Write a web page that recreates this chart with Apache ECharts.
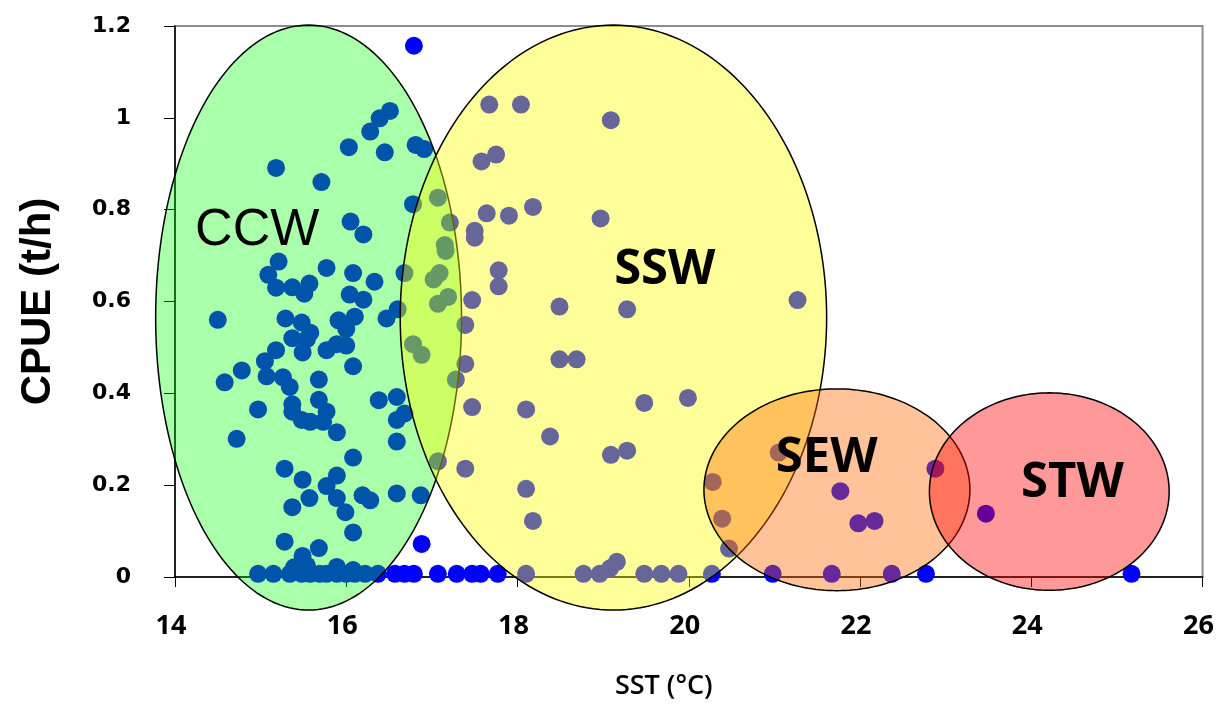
<!DOCTYPE html>
<html>
<head>
<meta charset="utf-8">
<script src="https://cdn.jsdelivr.net/npm/echarts@6/dist/echarts.min.js"></script>
<style>
html,body{margin:0;padding:0;background:#fff;overflow:hidden;}
#main{width:1217px;height:705px;}
</style>
</head>
<body>
<div id="main"></div>
<script>
// SST (°C) of each haul
var sst = [
	16.79,16.51,16.39,16.28,16.03,16.45,16.81,16.91,15.18,15.71,16.78,17.07,16.05,16.20,17.21,17.15,17.16,15.21,15.09,15.77,
	16.08,16.33,16.68,17.09,17.02,15.18,15.37,15.57,15.51,16.04,16.20,17.19,17.07,14.50,15.29,15.48,15.91,16.10,16.00,16.47,
	16.60,15.58,15.37,15.54,15.18,15.49,15.77,15.89,16.00,15.05,14.78,14.58,15.07,15.26,15.34,15.68,16.08,14.97,15.37,15.68,
	15.37,15.48,15.58,15.77,15.73,15.89,16.38,16.59,16.68,16.59,16.59,14.72,16.08,15.28,15.49,15.89,15.77,15.57,15.89,16.19,
	16.28,16.59,16.87,15.37,15.99,16.08,15.28,15.68,16.88,15.49,16.78,16.88,17.07,15.39,15.54,15.89,16.08,
	17.67,18.04,19.09,17.58,17.75,17.64,17.90,18.18,18.97,17.50,17.50,17.78,17.78,17.47,18.49,19.28,21.27,17.39,17.39,17.28,
	18.49,18.69,17.47,18.10,19.48,19.99,18.38,19.09,19.28,17.39,18.10,18.18,20.28,20.39,20.47,21.05,21.77,21.98,22.17,22.88,
	23.47,19.16,19.08,
	14.97,15.15,15.34,15.48,15.58,15.69,15.77,15.89,16.00,16.10,16.22,16.37,16.57,16.68,16.79,17.07,17.29,17.47,17.57,17.77,
	18.10,18.77,18.96,19.48,19.68,19.88,20.27,20.98,21.67,22.37,22.77,25.17
];
// CPUE (t/h) of each haul
var cpue = [
	1.157,1.015,0.999,0.970,0.936,0.925,0.941,0.932,0.891,0.860,0.812,0.826,0.774,0.746,0.772,0.723,0.710,0.687,0.658,0.673,
	0.662,0.643,0.662,0.662,0.648,0.630,0.631,0.639,0.617,0.615,0.604,0.610,0.595,0.560,0.563,0.554,0.559,0.567,0.540,0.563,
	0.583,0.532,0.520,0.518,0.494,0.489,0.494,0.507,0.504,0.470,0.450,0.424,0.437,0.435,0.414,0.430,0.459,0.365,0.376,0.386,
	0.360,0.342,0.338,0.360,0.338,0.315,0.385,0.392,0.356,0.342,0.295,0.301,0.260,0.236,0.212,0.221,0.198,0.172,0.172,0.178,
	0.167,0.182,0.178,0.152,0.141,0.097,0.077,0.063,0.072,0.046,0.507,0.484,0.252,0.021,0.025,0.022,0.015,
	1.029,1.029,0.995,0.905,0.920,0.792,0.787,0.806,0.781,0.754,0.739,0.668,0.633,0.603,0.589,0.583,0.603,0.549,0.464,0.430,
	0.474,0.474,0.370,0.365,0.379,0.390,0.306,0.266,0.275,0.236,0.192,0.122,0.207,0.127,0.062,0.271,0.187,0.117,0.122,0.236,
	0.138,0.033,0.019,
	0.007,0.007,0.007,0.007,0.007,0.007,0.007,0.007,0.007,0.007,0.007,0.007,0.007,0.007,0.007,0.007,0.007,0.007,0.007,0.007,
	0.007,0.007,0.007,0.007,0.007,0.007,0.007,0.007,0.007,0.007,0.007,0.007
];

// water mass zones (ellipses, in axis units)
var zoneNames = ["CCW","SSW","SEW","STW"];
var zoneCentre = [[15.56,0.565],[19.12,0.565],[21.73,0.190],[24.21,0.186]];
var zoneRadius = [[1.786,0.637],[2.49,0.637],[1.553,0.2197],[1.40,0.215]];
var zoneLabelAt = [[14.96,0.755],[19.72,0.669],[21.61,0.258],[24.48,0.204]];

var zoneFill = ["rgba(0,255,0,0.333)","rgba(255,255,0,0.4)","rgba(255,102,0,0.4)","rgba(255,0,0,0.4)"];
var zoneFont = [
	{fontFamily:"Liberation Sans",fontWeight:"normal",fontSize:52},
	{fontFamily:"Open Sans",fontWeight:"bold",fontSize:49},
	{fontFamily:"Open Sans",fontWeight:"bold",fontSize:49},
	{fontFamily:"Open Sans",fontWeight:"bold",fontSize:49}
];

var points = [];
for (var i = 0; i < sst.length; i++) {
	points.push([sst[i], cpue[i]]);
}

// ellipse + name for one zone, drawn over the points
function renderZone(params, api) {
	var i = params.dataIndex;
	var c = zoneCentre[i], r = zoneRadius[i];
	var pts = [];
	for (var k = 0; k < 200; k++) {
		var t = k / 200 * Math.PI * 2;
		pts.push(api.coord([c[0] + r[0] * Math.cos(t), c[1] + r[1] * Math.sin(t)]));
	}
	var lp = api.coord(zoneLabelAt[i]);
	return {
		type: "group",
		children: [
			{type: "polygon", shape: {points: pts}, style: {fill: zoneFill[i], stroke: "#000", lineWidth: 1.5}},
			{type: "text", x: lp[0], y: lp[1], z2: 10, style: {
				text: zoneNames[i], align: "center", verticalAlign: "middle", fill: "#000",
				fontFamily: zoneFont[i].fontFamily, fontWeight: zoneFont[i].fontWeight, fontSize: zoneFont[i].fontSize
			}}
		]
	};
}

var myChart = echarts.init(document.getElementById("main"), null, {width: 1217, height: 705});
var option = {
	backgroundColor: "#fff",
	animation: false,
	grid: {left: 175, top: 26, width: 1028, height: 555.5, show: true, borderColor: "#8c8c8c", borderWidth: 2, backgroundColor: "transparent"},
	xAxis: {
		type: "value", min: 14, max: 26, interval: 2,
		name: "SST (°C)", nameLocation: "middle", nameGap: 96,
		nameTextStyle: {color: "#000", fontFamily: "Open Sans", fontWeight: 600, fontSize: 27, padding: [0, 50, 0, 0]},
		axisLine: {onZero: false, lineStyle: {color: "#000", width: 1.5}},
		axisTick: {show: true, length: 10, lineStyle: {color: "#000", width: 1}},
		axisLabel: {color: "#000", fontFamily: "Open Sans", fontWeight: "bold", fontSize: 27, margin: 36, padding: [0, 8, 0, 0]},
		splitLine: {show: false}
	},
	yAxis: {
		type: "value", min: 0, max: 1.2, interval: 0.2,
		name: "CPUE (t/h)", nameLocation: "middle", nameGap: 116,
		nameTextStyle: {color: "#000", fontFamily: "Liberation Sans", fontWeight: "bold", fontSize: 42},
		axisLine: {show: true, lineStyle: {color: "#000", width: 1.5}},
		axisTick: {show: true, length: 11, lineStyle: {color: "#000", width: 1}},
		axisLabel: {color: "#000", fontFamily: "DejaVu Sans", fontWeight: "bold", fontSize: 22, margin: 44},
		splitLine: {show: false}
	},
	series: [
		{
			type: "scatter",
			data: points,
			symbol: "circle",
			symbolSize: 18,
			itemStyle: {color: "#0000ff", opacity: 1},
			silent: true,
			z: 2
		},
		{
			type: "custom",
			data: zoneCentre,
			encode: {x: 0, y: 1},
			renderItem: renderZone,
			clip: false,
			silent: true,
			z: 3
		}
	]
};
myChart.setOption(option);
</script>
</body>
</html>
